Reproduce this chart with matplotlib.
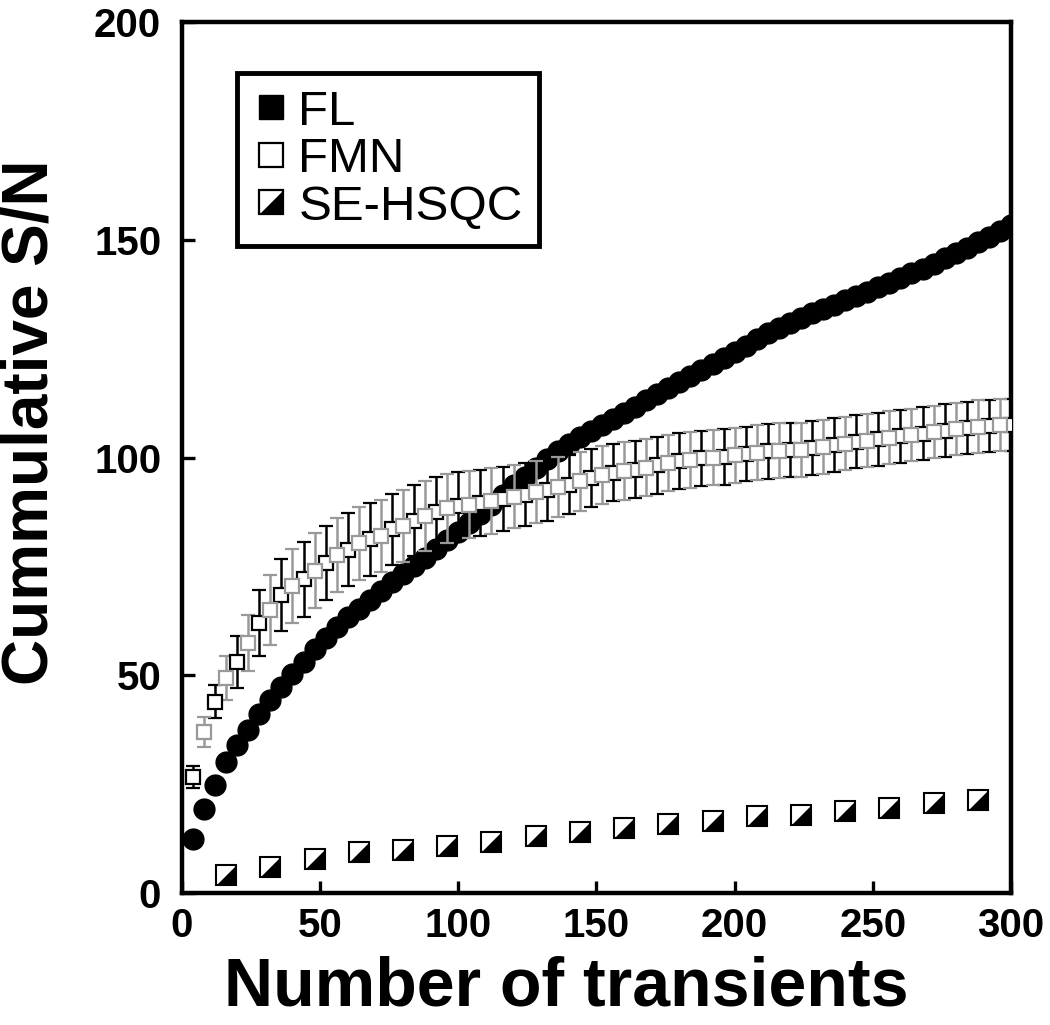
import numpy as np
import matplotlib
matplotlib.use("Agg")
import matplotlib.pyplot as plt
from matplotlib.lines import Line2D

plt.rcParams['font.family'] = ['Liberation Sans', 'DejaVu Sans']

# FL (filled circles), every 4 transients
fl_x = list(range(4, 301, 4))
fl_y = [12.3, 19.2, 24.7, 30.0, 34.0, 37.5, 41.0, 44.3, 47.3, 50.2,
        53.0, 56.0, 58.5, 61.0, 63.3, 65.2, 67.3, 69.3, 71.3, 73.3,
        75.2, 77.0, 79.0, 81.0, 83.0, 85.0, 87.0, 89.2, 91.5, 93.6,
        95.6, 97.6, 99.6, 101.5, 103.2, 104.7, 106.1, 107.5, 108.9, 110.3,
        111.7, 113.1, 114.5, 115.9, 117.3, 118.7, 120.1, 121.5, 122.9, 124.3,
        125.7, 127.1, 128.5, 129.8, 131.0, 132.1, 133.1, 134.1, 135.1, 136.1,
        137.1, 138.1, 139.1, 140.1, 141.2, 142.3, 143.4, 144.5, 145.7, 146.9,
        148.1, 149.4, 150.7, 152.0, 153.4]

# FMN (open squares with error bars), every 4 transients
fmn_x = list(range(4, 301, 4))
fmn_y = [26.7, 37.0, 43.9, 49.4, 53.0, 57.4, 62.0, 65.0, 68.5, 70.5,
         72.0, 74.0, 75.7, 77.7, 78.8, 80.3, 81.2, 82.0, 83.5, 84.3,
         85.5, 86.5, 87.5, 88.3, 88.8, 89.2, 89.6, 90.0, 90.5, 91.0,
         91.5, 92.0, 92.5, 93.2, 93.8, 94.5, 95.3, 96.0, 96.5, 96.9,
         97.2, 97.7, 98.2, 98.7, 99.2, 99.5, 99.8, 100.0, 100.2, 100.5,
         100.8, 101.1, 101.4, 101.6, 101.7, 101.8, 102.2, 102.5, 102.9, 103.2,
         103.6, 103.9, 104.2, 104.5, 104.9, 105.2, 105.5, 105.8, 106.2, 106.5,
         106.8, 107.1, 107.3, 107.4, 107.5]
fmn_err = [2.5, 3.4, 3.8, 5.0, 6.0, 6.5, 7.5, 8.0, 8.3, 8.5,
           8.6, 8.6, 8.5, 8.5, 8.4, 8.4, 8.3, 8.3, 8.2, 8.2,
           8.1, 8.0, 8.0, 7.9, 7.8, 7.7, 7.6, 7.5, 7.4, 7.3,
           7.2, 7.1, 7.0, 6.9, 6.8, 6.8, 6.7, 6.7, 6.6, 6.6,
           6.6, 6.5, 6.5, 6.5, 6.5, 6.4, 6.4, 6.4, 6.4, 6.3,
           6.3, 6.3, 6.3, 6.3, 6.2, 6.2, 6.2, 6.2, 6.2, 6.1,
           6.1, 6.1, 6.1, 6.1, 6.1, 6.0, 6.0, 6.0, 6.0, 6.0,
           6.0, 6.0, 6.0, 6.0, 6.0]

# SE-HSQC (half filled squares), every 16 transients
se_x = list(range(16, 289, 16))
se_y = [4.1, 6.0, 7.9, 9.3, 9.9, 10.8, 11.7, 13.0, 14.1,
        14.9, 15.8, 16.5, 17.7, 18.0, 18.9, 19.4, 20.6, 21.3]

half_tri = [(-1, -1), (1, -1), (1, 1), (-1, -1)]

fig = plt.figure(figsize=(10.5, 10.25), dpi=100)
ax = fig.add_axes([0.1733, 0.1288, 0.7895, 0.8497])

ax.plot(fl_x, fl_y, 'o', color='black', ms=15, zorder=2)

fx = np.array(fmn_x); fy = np.array(fmn_y); fe = np.array(fmn_err)
for start, col in [(0, 'black'), (1, '#999999')]:
    ax.errorbar(fx[start::2], fy[start::2], yerr=fe[start::2], fmt='s', ms=10,
                mfc='white', mec=col, mew=1.6, ecolor=col, elinewidth=1.8,
                capsize=5, capthick=1.8, zorder=3)

ax.plot(se_x, se_y, 's', ms=14, mfc='white', mec='black', mew=1.5, zorder=4)
ax.plot(se_x, se_y, marker=half_tri, ls='none', ms=14, color='black', mew=0, zorder=5)

ax.set_xlim(0, 300)
ax.set_ylim(0, 200)
ax.set_xticks([0, 50, 100, 150, 200, 250, 300])
ax.set_yticks([0, 50, 100, 150, 200])
for s in ax.spines.values():
    s.set_linewidth(3.2)
ax.tick_params(direction='in', length=9, width=2.4, labelsize=29)
ax.tick_params(axis='x', pad=10)
ax.tick_params(axis='y', pad=15)
for lab in ax.get_xticklabels() + ax.get_yticklabels():
    lab.set_fontweight('bold')

ax.set_xlabel("Number of transients", fontsize=49, fontweight='bold')
ax.set_ylabel("Cummulative S/N", fontsize=46, fontweight='bold')
ax.xaxis.set_label_coords(0.464, -0.072)
ax.yaxis.set_label_coords(-0.146, 0.541)

h_fl = Line2D([], [], marker='s', ls='none', ms=17, color='black')
h_fmn = Line2D([], [], marker='s', ls='none', ms=17, mfc='white', mec='black', mew=1.6)
h_se1 = Line2D([], [], marker='s', ls='none', ms=17, mfc='white', mec='black', mew=1.6)
h_se2 = Line2D([], [], marker=half_tri, ls='none', ms=17, color='black', mew=0)
leg = ax.legend([h_fl, h_fmn, (h_se1, h_se2)], ["FL", "FMN", "SE-HSQC"],
                loc='upper left', bbox_to_anchor=(0.066, 0.941), borderaxespad=0,
                fontsize=35.5, handlelength=0.72, handletextpad=0.2,
                labelspacing=0.05, borderpad=0.33, fancybox=False,
                framealpha=1, edgecolor='black')
leg.get_frame().set_linewidth(3.5)

fig.savefig("out.png", dpi=100)
